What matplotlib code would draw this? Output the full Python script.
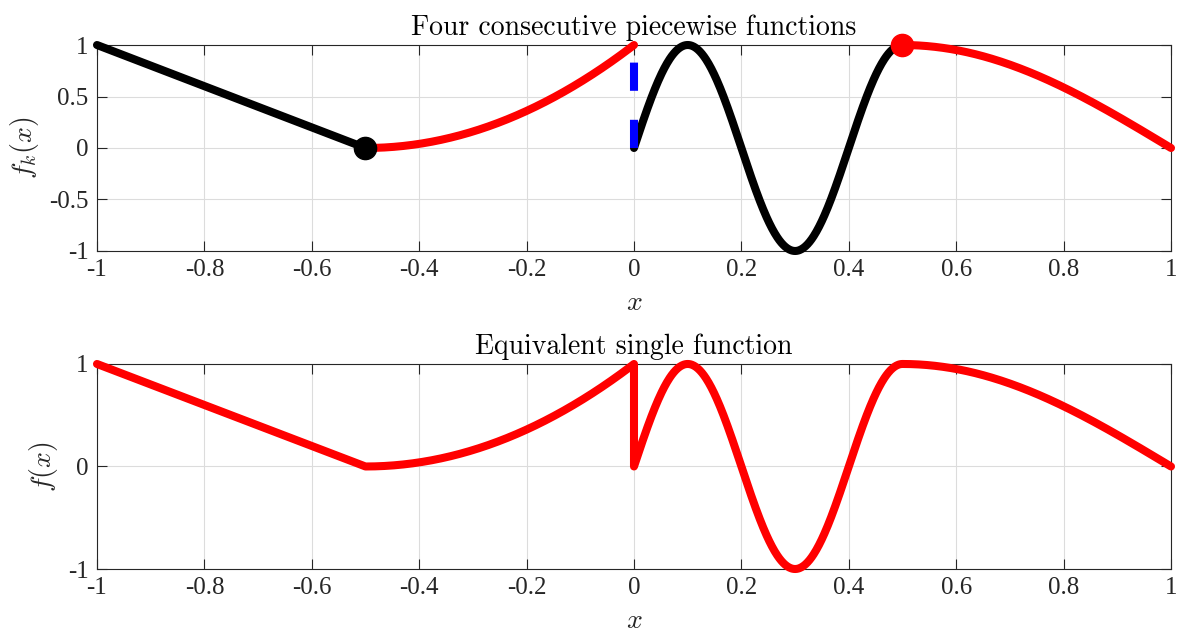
import numpy as np
import matplotlib
matplotlib.use("Agg")
import matplotlib.pyplot as plt

plt.rcParams['mathtext.fontset'] = 'cm'
plt.rcParams['font.family'] = ['Liberation Serif', 'DejaVu Serif']

# piecewise pieces (domains and definitions)
x1 = np.linspace(-1.0, -0.5, 200)
x2 = np.linspace(-0.5, 0.0, 200)
x3 = np.linspace(0.0, 0.5, 400)
x4 = np.linspace(0.5, 1.0, 200)
f1 = -2 * x1 - 1                 # linear 1 -> 0
f2 = 4 * (x2 + 0.5) ** 2         # quadratic 0 -> 1
f3 = np.sin(5 * np.pi * x3)      # 0, 1, -1, 1
f4 = np.cos(np.pi * (x4 - 0.5))  # 1 -> 0

jump_x = [0.0, 0.0]
jump_y = [0.0, 1.0]
marker_black = (-0.5, 0.0)
marker_red = (0.5, 1.0)

xticks = [-1, -0.8, -0.6, -0.4, -0.2, 0, 0.2, 0.4, 0.6, 0.8, 1]
xticklabels = ['-1', '-0.8', '-0.6', '-0.4', '-0.2', '0', '0.2', '0.4', '0.6', '0.8', '1']
yticks_top = [-1, -0.5, 0, 0.5, 1]
yticklabels_top = ['-1', '-0.5', '0', '0.5', '1']
yticks_bot = [-1, 0, 1]
yticklabels_bot = ['-1', '0', '1']

fig = plt.figure(figsize=(11.77, 6.33), dpi=100)
ax1 = fig.add_axes([0.0824, 0.6035, 0.9125, 0.3254])
ax2 = fig.add_axes([0.0824, 0.1011, 0.9125, 0.3239])

LW = 5.8
axcol = '#262626'

def style(ax, yt, ytl, ylabel, title):
    ax.set_xlim(-1, 1)
    ax.set_ylim(-1, 1)
    ax.set_xticks(xticks)
    ax.set_xticklabels(xticklabels)
    ax.set_yticks(yt)
    ax.set_yticklabels(ytl)
    ax.tick_params(direction='in', length=7, width=0.8, colors=axcol,
                   labelsize=18, top=True, right=True, pad=6)
    for s in ax.spines.values():
        s.set_color(axcol)
        s.set_linewidth(0.8)
    ax.grid(True, color='#dcdcdc', linewidth=0.8)
    ax.set_axisbelow(True)
    ax.set_xlabel('$x$', fontsize=20, color=axcol, labelpad=7)
    ax.set_ylabel(ylabel, fontsize=20, color=axcol, labelpad=6)
    ax.set_title(title, fontsize=20, family='cmr10', pad=7)

ax1.plot(x1, f1, color='black', lw=LW, solid_capstyle='round', clip_on=False, zorder=3)
ax1.plot(x2, f2, color='red', lw=LW, solid_capstyle='round', clip_on=False, zorder=3)
ax1.plot(x3, f3, color='black', lw=LW, solid_capstyle='round', clip_on=False, zorder=3)
ax1.plot(x4, f4, color='red', lw=LW, solid_capstyle='round', clip_on=False, zorder=3)
ax1.plot(jump_x, jump_y, color='blue', lw=5.8, dashes=(3.5, 3.6),
         dash_capstyle='butt', zorder=4)
ax1.plot([marker_black[0]], [marker_black[1]], 'o', color='black', ms=16, zorder=5, clip_on=False)
ax1.plot([marker_red[0]], [marker_red[1]], 'o', color='red', ms=16, zorder=5, clip_on=False)
style(ax1, yticks_top, yticklabels_top, '$f_k(x)$', 'Four consecutive piecewise functions')

xall = np.concatenate([x1, x2, x3, x4])
fall = np.concatenate([f1, f2, f3, f4])
ax2.plot(xall, fall, color='red', lw=LW, solid_joinstyle='round', solid_capstyle='round',
         clip_on=False, zorder=3)
style(ax2, yticks_bot, yticklabels_bot, '$f(x)$', 'Equivalent single function')

fig.savefig('out.png', dpi=100)
